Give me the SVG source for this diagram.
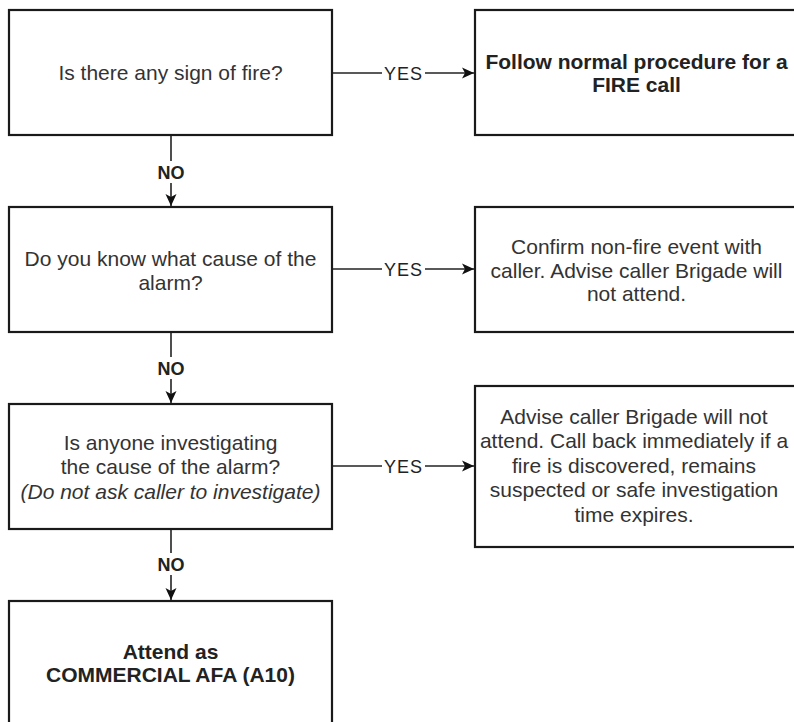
<svg xmlns="http://www.w3.org/2000/svg" width="794" height="722" viewBox="0 0 794 722">
<style>
.box{fill:#fff;stroke:#1a1a1a;stroke-width:2.2}
.t{font-family:"Liberation Sans",Arial,sans-serif;font-size:21px;fill:#333;text-anchor:middle}
.b{font-weight:bold;fill:#222}
.i{font-style:italic}
.edge{fill:none;stroke:#222;stroke-width:1.6}
.lblbg{fill:#fff}
.lbl{font-family:"Liberation Sans",Arial,sans-serif;font-size:18px;fill:#222;text-anchor:middle}
</style>
<defs>
<marker id="arr" viewBox="0 0 12 12" refX="12" refY="6" markerWidth="12" markerHeight="12" markerUnits="userSpaceOnUse" orient="auto">
<path d="M0,0.5 L12,6 L0,11.5 L3,6 Z" fill="#111"/>
</marker>
</defs>
<rect width="794" height="722" fill="#fff"/>
<g id="connectors">
<line class="edge" x1="332" y1="73" x2="474" y2="73" marker-end="url(#arr)"/>
<rect class="lblbg" x="382" y="62" width="43" height="22"/>
<text class="lbl" x="403.5" y="79.5" letter-spacing="1">YES</text>
<line class="edge" x1="332" y1="269" x2="474" y2="269" marker-end="url(#arr)"/>
<rect class="lblbg" x="382" y="258" width="43" height="22"/>
<text class="lbl" x="403.5" y="275.5" letter-spacing="1">YES</text>
<line class="edge" x1="332" y1="466" x2="474" y2="466" marker-end="url(#arr)"/>
<rect class="lblbg" x="382" y="455" width="43" height="22"/>
<text class="lbl" x="403.5" y="472.5" letter-spacing="1">YES</text>
<line class="edge" x1="171" y1="135" x2="171" y2="206" marker-end="url(#arr)"/>
<rect class="lblbg" x="155" y="161" width="32" height="22"/>
<text class="lbl b" x="171" y="178.5">NO</text>
<line class="edge" x1="171" y1="332" x2="171" y2="403" marker-end="url(#arr)"/>
<rect class="lblbg" x="155" y="357" width="32" height="22"/>
<text class="lbl b" x="171" y="374.5">NO</text>
<line class="edge" x1="171" y1="530" x2="171" y2="600" marker-end="url(#arr)"/>
<rect class="lblbg" x="155" y="553" width="32" height="22"/>
<text class="lbl b" x="171" y="570.5">NO</text>
</g>
<g id="q1">
<rect class="box" x="9" y="10" width="323" height="125"/>
<text class="t" x="170.5" y="80">Is there any sign of fire?</text>
</g>
<g id="a1">
<rect class="box" x="475" y="10" width="324" height="125"/>
<text class="t b" x="636.5" y="69">Follow normal procedure for a</text>
<text class="t b" x="636.5" y="92">FIRE call</text>
</g>
<g id="q2">
<rect class="box" x="9" y="207" width="323" height="125"/>
<text class="t" x="170.5" y="266">Do you know what cause of the</text>
<text class="t" x="170.5" y="290">alarm?</text>
</g>
<g id="a2">
<rect class="box" x="475" y="207" width="324" height="125"/>
<text class="t" x="636.5" y="254">Confirm non-fire event with</text>
<text class="t" x="636.5" y="277.5">caller. Advise caller Brigade will</text>
<text class="t" x="636.5" y="301">not attend.</text>
</g>
<g id="q3">
<rect class="box" x="9" y="404" width="323" height="125"/>
<text class="t" x="170.5" y="449.5">Is anyone investigating</text>
<text class="t" x="170.5" y="474">the cause of the alarm?</text>
<text class="t i" x="170.5" y="498.5">(Do not ask caller to investigate)</text>
</g>
<g id="a3">
<rect class="box" x="475" y="386" width="324" height="161"/>
<text class="t" x="634" y="423.5">Advise caller Brigade will not</text>
<text class="t" x="634" y="448">attend. Call back immediately if a</text>
<text class="t" x="634" y="472.5">fire is discovered, remains</text>
<text class="t" x="634" y="497">suspected or safe investigation</text>
<text class="t" x="634" y="521.5">time expires.</text>
</g>
<g id="end">
<rect class="box" x="9" y="601" width="323" height="125"/>
<text class="t b" x="170.5" y="659">Attend as</text>
<text class="t b" x="170.5" y="682">COMMERCIAL AFA (A10)</text>
</g>
</svg>
